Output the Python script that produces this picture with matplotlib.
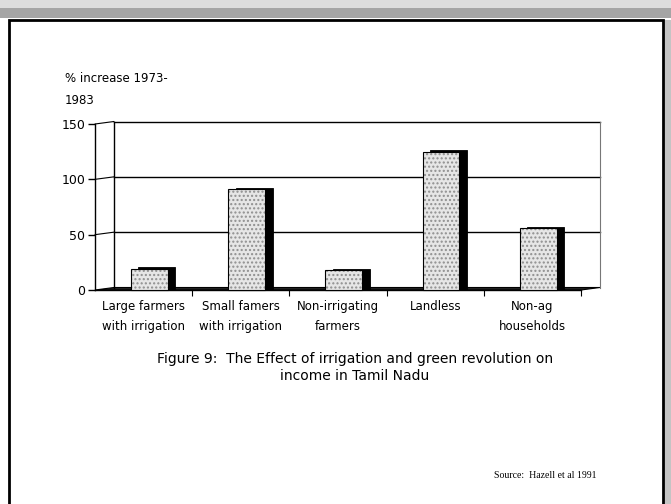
import numpy as np
import matplotlib
matplotlib.use("Agg")
import matplotlib.pyplot as plt
import matplotlib.transforms as mtransforms
from matplotlib.patches import Rectangle, Polygon

# data
categories = ["Large farmers\nwith irrigation", "Small famers\nwith irrigation",
              "Non-irrigating\nfarmers", "Landless", "Non-ag\nhouseholds"]
values = [19, 91, 18, 125, 56]
yticks = [0, 50, 100, 150]
ylabel = "% increase 1973-\n1983"
title = "Figure 9:  The Effect of irrigation and green revolution on\nincome in Tamil Nadu"
source = "Source:  Hazell et al 1991"

plt.rcParams['font.family'] = ['DejaVu Sans']

fig = plt.figure(figsize=(6.71, 5.04), dpi=100)

# page decoration: stippled band on top, frame box
fig.patches.append(Rectangle((0, 1 - 8/504), 1, 8/504, transform=fig.transFigure,
                             facecolor='#dddddd', edgecolor='none', hatch='....'))
fig.patches.append(Rectangle((0, 1 - 18/504), 1, 10/504, transform=fig.transFigure,
                             facecolor='#a5a5a5', edgecolor='none', hatch='....'))
fig.patches.append(Rectangle((663/671, 0), 8/671, 1 - 20/504, transform=fig.transFigure,
                             facecolor='#c4c4c4', edgecolor='none', hatch='....'))
fig.patches.append(Rectangle((9/671, -0.01), 654/671, 1 - 20/504 + 0.01,
                             transform=fig.transFigure, facecolor='none',
                             edgecolor='black', linewidth=2))

# axes = front plane of the 3-D chart
ax = fig.add_axes([95/671, 214/504, 486/671, 166/504])
ax.set_xlim(0, 5)
ax.set_ylim(0, 150)
ax.patch.set_visible(False)
for s in ['top', 'right']:
    ax.spines[s].set_visible(False)
ax.spines['left'].set_linewidth(1)
ax.spines['bottom'].set_linewidth(1)

# depth offset of back wall (pixels)
back = ax.transData + mtransforms.Affine2D().translate(19, 2.5)
dxd = 19 / (486 / 5)
dyd = 2.5 / (166 / 150)

# back wall
for v in yticks[1:]:
    ax.plot([0, 5], [v, v], color='black', lw=1, transform=back, clip_on=False)
ax.plot([0, 0], [0, 150], color='black', lw=1, transform=back, clip_on=False)
ax.plot([5, 5], [0, 150], color='#777777', lw=0.8, transform=back, clip_on=False)
for v in yticks[1:]:
    ax.annotate("", xy=(dxd, v + dyd), xytext=(0, v), xycoords='data',
                arrowprops=dict(arrowstyle='-', lw=0.8, color='black',
                                shrinkA=0, shrinkB=0), annotation_clip=False)

# floor
ax.add_patch(Polygon([[0, 0], [5, 0], [5 + dxd, dyd], [dxd, dyd]], closed=True,
                     facecolor='#222222', edgecolor='black', lw=0.8, clip_on=False))

# bars: dark side first, then stippled face
x = np.arange(len(values)) + 0.37
w = 0.38
sx = 7.5 / (486 / 5)
sy = 1.5 / (166 / 150)
ax.bar(x + sx, np.array(values) + sy, width=w, align='edge', color='black',
       edgecolor='black', linewidth=0.6, clip_on=False, zorder=3)
ax.bar(x, values, width=w, align='edge', color='#e6e6e6', edgecolor='#8f8f8f',
       hatch='....', linewidth=0, clip_on=False, zorder=4)
ax.bar(x, values, width=w, align='edge', fill=False, edgecolor='black',
       linewidth=0.8, clip_on=False, zorder=5)

# ticks and labels
ax.set_yticks(yticks)
ax.tick_params(axis='y', direction='out', length=5, width=1, labelsize=9, pad=2)
ax.set_xticks([1, 2, 3, 4, 5])
ax.set_xticklabels([])
ax.tick_params(axis='x', which='major', direction='out', length=4, width=0.8)
ax.set_xticks(np.arange(5) + 0.5, minor=True)
ax.set_xticklabels(categories, minor=True, fontsize=8.5, linespacing=1.75)
ax.tick_params(axis='x', which='minor', length=0, pad=7)

fig.text(65/671, 1 - 72/504, ylabel, fontsize=8.5, va='top', ha='left',
         linespacing=1.9)
fig.text(355/671, 1 - 352/504, title, fontsize=10, va='top', ha='center',
         linespacing=1.3)
fig.text(597/671, 1 - 476/504, source, fontsize=7, va='center', ha='right',
         family='Liberation Serif')

fig.savefig("out.png", dpi=100)
